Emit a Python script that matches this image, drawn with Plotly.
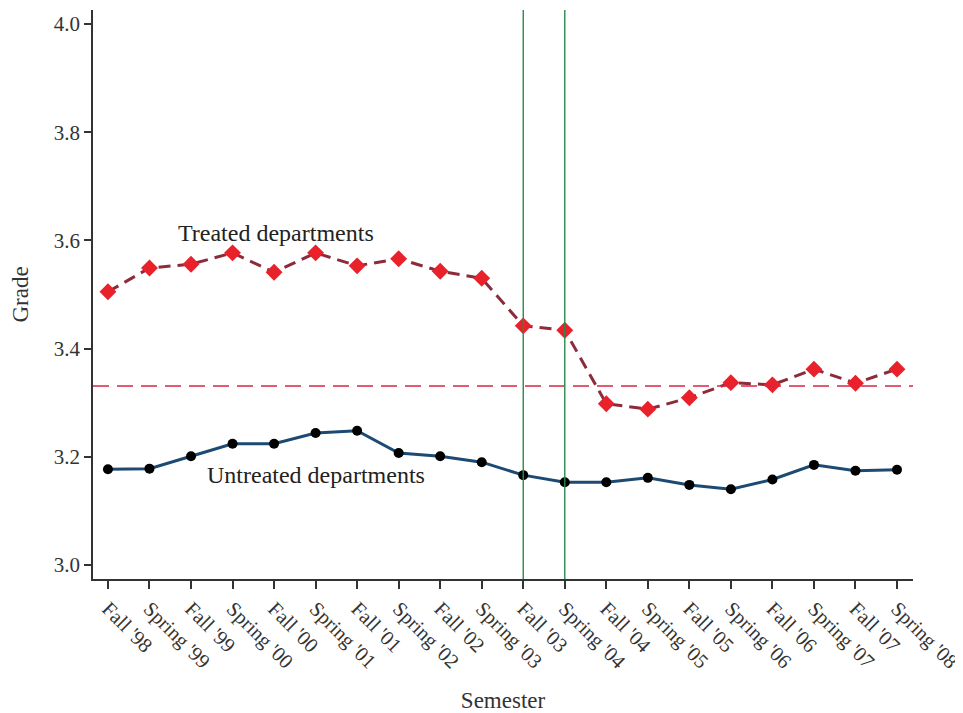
import plotly.graph_objects as go

semesters = ["Fall '98", "Spring '99", "Fall '99", "Spring '00", "Fall '00", "Spring '01",
             "Fall '01", "Spring '02", "Fall '02", "Spring '03", "Fall '03", "Spring '04",
             "Fall '04", "Spring '05", "Fall '05", "Spring '06", "Fall '06", "Spring '07",
             "Fall '07", "Spring '08"]
treated = [3.505, 3.549, 3.556, 3.577, 3.541, 3.577, 3.553, 3.566, 3.543, 3.530,
           3.442, 3.434, 3.298, 3.288, 3.309, 3.337, 3.333, 3.362, 3.336, 3.362]
untreated = [3.177, 3.178, 3.201, 3.224, 3.224, 3.244, 3.248, 3.207, 3.201, 3.190,
             3.166, 3.153, 3.153, 3.161, 3.148, 3.140, 3.158, 3.185, 3.174, 3.176]
reference_grade = 3.331
policy_semesters = ["Fall '03", "Spring '04"]
y_ticks = [3.0, 3.2, 3.4, 3.6, 3.8, 4.0]

xs = list(range(len(semesters)))
FONT = "Liberation Serif"

fig = go.Figure()
fig.add_trace(go.Scatter(
    x=xs, y=treated, mode="lines+markers",
    line=dict(color="#8E2B3B", width=3, dash="12px,7px"),
    marker=dict(symbol="diamond", size=13, color="#E8212B"),
    showlegend=False))
fig.add_trace(go.Scatter(
    x=xs, y=untreated, mode="lines+markers",
    line=dict(color="#1C4A72", width=3),
    marker=dict(symbol="circle", size=10, color="black"),
    showlegend=False))

fig.add_hline(y=reference_grade, line=dict(color="#DC2440", width=1.5, dash="16px,8px"))
for s in policy_semesters:
    fig.add_vline(x=semesters.index(s), line=dict(color="#2A8A4C", width=1.4))

fig.add_annotation(x=4.045, y=3.614, text="Treated departments", showarrow=False,
                   font=dict(family=FONT, size=24, color="#222"))
fig.add_annotation(x=5.01, y=3.166, text="Untreated departments", showarrow=False,
                   font=dict(family=FONT, size=24, color="#222"))

fig.update_layout(
    width=955, height=705,
    margin=dict(l=85, r=50, t=2, b=134),
    plot_bgcolor="white", paper_bgcolor="white",
    font=dict(family=FONT, size=21, color="#333"),
    xaxis=dict(
        range=[-0.36, 19.385], tickvals=xs, ticktext=semesters, tickangle=45,
        showgrid=False, zeroline=False, showline=True, linecolor="#333", linewidth=1.5,
        ticks="outside", ticklen=8, tickwidth=1.5, tickcolor="#333", automargin=False,
        ticklabeloverflow="allow",
        title=dict(text="Semester", font=dict(family=FONT, size=23, color="#333"), standoff=22),
        tickfont=dict(family=FONT, size=20.5, color="#333")),
    yaxis=dict(
        range=[2.974, 4.026], tickvals=y_ticks, ticktext=[f"{v:.1f}" for v in y_ticks],
        showgrid=False, zeroline=False, showline=True, linecolor="#333", linewidth=1.5,
        ticks="outside", ticklen=7, tickwidth=1.5, tickcolor="#333", automargin=False,
        ticklabeloverflow="allow",
        title=dict(text="Grade", font=dict(family=FONT, size=23, color="#333"), standoff=22),
        tickfont=dict(family=FONT, size=21, color="#333")),
)

fig.write_html("out.html")
